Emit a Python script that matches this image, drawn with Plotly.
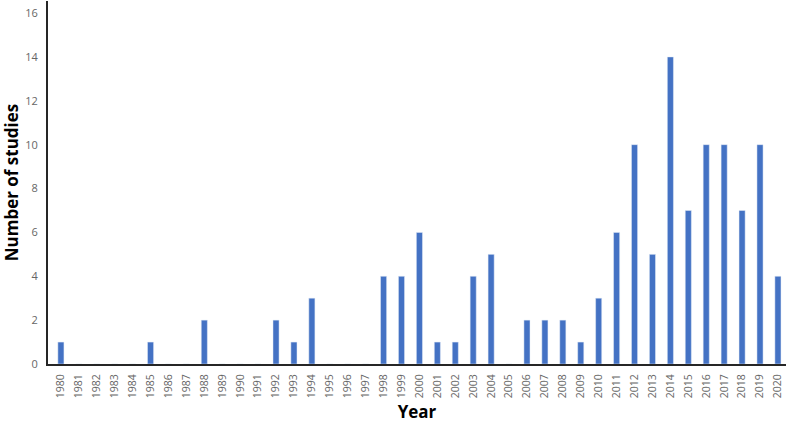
import plotly.graph_objects as go

years = [str(y) for y in range(1980, 2021)]
studies = [1, 0, 0, 0, 0, 1, 0, 0, 2, 0, 0, 0, 2, 1, 3, 0, 0, 0, 4, 4,
           6, 1, 1, 4, 5, 0, 2, 2, 2, 1, 3, 6, 10, 5, 14, 7, 10, 10, 7, 10, 4]
y_ticks = [0, 2, 4, 6, 8, 10, 12, 14, 16]

fig = go.Figure(data=[go.Bar(x=years, y=studies, marker_color="#4472C4", width=0.34)])

fig.update_layout(
    width=788, height=423,
    margin=dict(l=48, r=2, t=1, b=59),
    plot_bgcolor="white", paper_bgcolor="white",
    showlegend=False,
    font=dict(family="Open Sans", color="#666666", size=11),
)
fig.update_xaxes(
    type="category", tickangle=-90, automargin=False,
    range=[-0.72, 40.45],
    showline=True, linecolor="#262626", linewidth=2,
    ticks="", ticklabelstandoff=4, tickfont=dict(size=10.5),
    title=dict(text="<b>Year</b>", font=dict(size=17, color="black")),
)
fig.update_yaxes(
    range=[0, 16.55], tickvals=y_ticks, automargin=False,
    showline=True, linecolor="#262626", linewidth=2,
    showgrid=False, zeroline=False,
    ticks="", ticklabelstandoff=6,
    title=dict(text="<b>Number of studies</b>", font=dict(size=17, color="black")),
)

# page body has an 8px default margin; drop it so the figure sits at 0,0
fig.write_html("out.html", config={"displayModeBar": False},
               post_script="document.body.style.margin='0';")
